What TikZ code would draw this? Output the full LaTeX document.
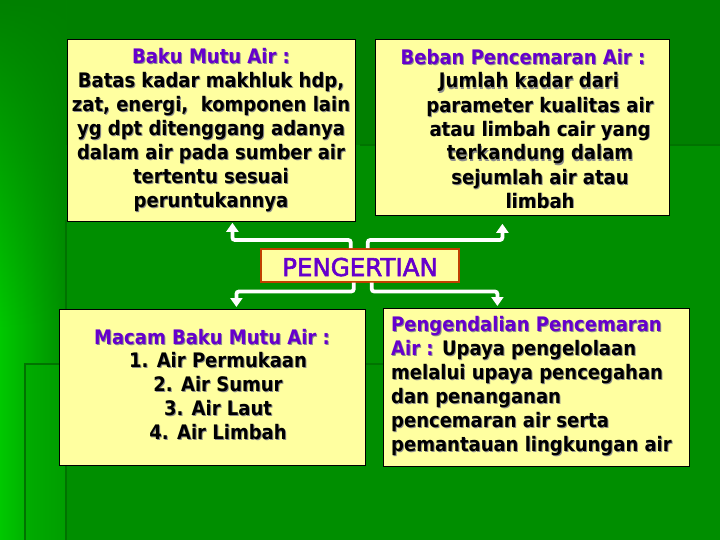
\documentclass[tikz,border=0pt]{standalone}
\usepackage{fontspec}
\setmainfont{DejaVu Sans}[FakeStretch=0.9]
\newfontfamily\pgfont{DejaVu Sans}[FakeBold=2.5]
\usetikzlibrary{arrows.meta,calc,fadings}
\definecolor{bgdark}{RGB}{0,128,0}
\definecolor{bgmid}{RGB}{0,142,0}
\definecolor{bgbright}{RGB}{0,200,0}
\definecolor{bgstep}{RGB}{0,168,0}
\definecolor{bgline}{RGB}{0,115,0}
\definecolor{boxyellow}{RGB}{255,255,160}
\definecolor{purp}{RGB}{102,0,204}
\definecolor{pgborder}{RGB}{192,64,0}
\definecolor{shd}{RGB}{140,140,140}
\newcommand{\tc}{purp}
\newcommand{\sh}[1]{\makebox[0pt][l]{\kern1pt\raisebox{-1pt}{\renewcommand{\tc}{shd}\color{shd}#1}}#1}
\newcommand{\ptitle}[1]{\textcolor{\tc}{#1}}
\newcommand{\topstrut}{\rule{0pt}{16pt}}
\newcommand{\botstrut}{\rule[-5pt]{0pt}{5pt}}
\tikzset{
  box/.style={draw=black, line width=0.8pt, fill=boxyellow, inner sep=0pt, anchor=north west},
  txt/.style={inner sep=0pt, font=\bfseries\fontsize{20}{24}\selectfont, align=center},
  conn/.style={draw=white, line width=3.8pt, rounded corners=2.5pt, -{Triangle[width=12pt,length=9pt]}},
}
\begin{document}
\begin{tikzpicture}[x=1pt,y=-1pt]
\useasboundingbox (0,0) rectangle (720,540);
% background
\fill[bgdark] (0,0) rectangle (720,540);
\fill[bgmid] (66,145) rectangle (720,540);
\shade[left color=bgbright, right color=bgmid] (0,0) rectangle (66,540);
\fill[bgdark, path fading=south] (0,0) rectangle (66,330);
\fill[bgstep, opacity=0.6] (25,364) rectangle (66,540);
\draw[bgline, line width=1.5pt] (720,145) -- (360,145);
\draw[bgline, line width=2pt] (66,220) -- (66,540);
\draw[bgline, line width=1.5pt] (690,364) -- (25,364) -- (25,540);
% boxes
\node[box, minimum width=288pt, minimum height=182pt] (b1) at (67,39) {};
\node[box, minimum width=294pt, minimum height=176pt] (b2) at (375,39) {};
\node[box, minimum width=306pt, minimum height=156pt] (b3) at (59,309) {};
\node[box, minimum width=306pt, minimum height=158pt] (b4) at (383,308) {};
\node[box, draw=pgborder, line width=1.5pt, minimum width=198pt, minimum height=33pt] (pg) at (260,248) {};
% texts
\node[txt] (t1) at (211,130.5) {\topstrut\sh{\ptitle{Baku Mutu Air :}}\\
  \sh{Batas kadar makhluk hdp,}\\
  \sh{zat, energi,\ \ komponen lain}\\
  \sh{yg dpt ditenggang adanya}\\
  \sh{dalam air pada sumber air}\\
  \sh{tertentu sesuai}\\
  \sh{peruntukannya}\botstrut};
\node[txt, anchor=base] (t2a) at (523,65) {\sh{\ptitle{Beban Pencemaran Air :}}};
\node[txt] (t2b) at (540,142.5) {\topstrut\hspace*{-22pt}\sh{Jumlah kadar dari}\\
  \sh{parameter kualitas air}\\
  \sh{atau limbah cair yang}\\
  \sh{terkandung dalam}\\
  \sh{sejumlah air atau}\\
  \sh{limbah}\botstrut};
\node[txt, anchor=base] (t3a) at (212,344) {\sh{\ptitle{Macam Baku Mutu Air :}}};
\node[txt] (t3b) at (218,397.5) {\topstrut\sh{1. Air Permukaan}\\
  \sh{2. Air Sumur}\\
  \sh{3. Air Laut}\\
  \sh{4. Air Limbah}\botstrut};
\node[txt, align=left, anchor=west] (t4) at (391,386.5) {\topstrut\sh{\ptitle{Pengendalian Pencemaran}}\\
  \sh{\ptitle{Air :} Upaya pengelolaan}\\
  \sh{melalui upaya pencegahan}\\
  \sh{dan penanganan}\\
  \sh{pencemaran air serta}\\
  \sh{pemantauan lingkungan air}\botstrut};
\node[inner sep=0pt, font=\pgfont\fontsize{24.5}{29}\selectfont, text=purp, anchor=base] (pgt) at (360,276) {PENGERTIAN};
% connectors
\draw[conn] ([xshift=-9pt]pg.north) -- ++(0,-8) -| ([xshift=21pt,yshift=-1pt]b1.south);
\draw[conn] ([xshift=8pt]pg.north) -- ++(0,-8) -| ([xshift=-20pt,yshift=-8pt]b2.south);
\draw[conn] ([xshift=-6pt]pg.south) -- ++(0,9) -| ([xshift=24pt,yshift=2pt]b3.north);
\draw[conn] ([xshift=12pt]pg.south) -- ++(0,9) -| ([xshift=-39pt,yshift=2pt]b4.north);
\end{tikzpicture}
\end{document}
